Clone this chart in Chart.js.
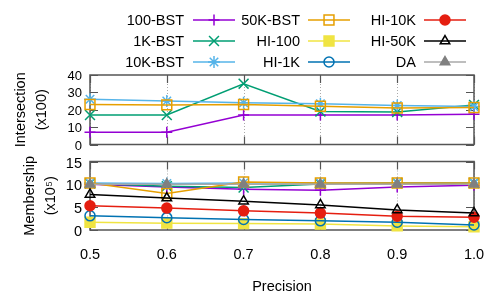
<!DOCTYPE html>
<html>
<head>
<meta charset="utf-8">
<script src="https://cdn.jsdelivr.net/npm/chart.js@4/dist/chart.umd.min.js"></script>
<style>
  html, body { margin: 0; padding: 0; background: #fff; }
  #wrap { position: relative; width: 498px; height: 299px; }
  #wrap canvas { position: absolute; left: 0; }
  #intersectionChart { top: 0; }
  #membershipChart { top: 153px; }
</style>
</head>
<body>
<div id="wrap">
  <canvas id="intersectionChart" width="498" height="153"></canvas>
  <canvas id="membershipChart" width="498" height="146"></canvas>
</div>
<script>
// x values (precision) and tick labels
const PRECISION = [0.5, 0.6, 0.7, 0.8, 0.9, 1.0];
const INTERSECTION_TICKS = [0, 10, 20, 30, 40];
const MEMBERSHIP_TICKS = [0, 5, 10, 15];

// Intersection (x100)
const INT_100_BST = [7, 7, 17, 17, 17, 17.4];
const INT_1K_BST = [17, 17, 35, 19, 18.7, 22.8];
const INT_10K_BST = [26, 25, 24, 23.5, 22.4, 21.8];
const INT_50K_BST = [23, 22.8, 23, 22, 21, 21.3];

// Membership (x10^5)
const MEM_100_BST = [10, 9.4, 8.9, 8.7, 9.4, 9.8];
const MEM_1K_BST = [10.2, 9.6, 9.3, 10.1, 10.3, 10.3];
const MEM_10K_BST = [10.3, 10.2, 10.3, 10.3, 10.3, 10.3];
const MEM_50K_BST = [10.3, 8.0, 10.5, 10.3, 10.3, 10.3];
const MEM_HI_100 = [1.7, 1.5, 1.4, 1.3, 0.9, 0.7];
const MEM_HI_1K = [3.1, 2.7, 2.3, 2.0, 1.7, 1.1];
const MEM_HI_10K = [5.3, 4.8, 4.2, 3.7, 3.0, 2.8];
const MEM_HI_50K = [7.8, 7.0, 6.3, 5.5, 4.4, 3.7];
const MEM_DA = [10, 10, 10, 10, 10, 10];

// y tick list and tick label size per panel
const Y_TICKS = {
  intersectionChart: INTERSECTION_TICKS,
  membershipChart: MEMBERSHIP_TICKS,
};
const Y_TICK_FONT = {
  intersectionChart: 13,
  membershipChart: 14.5,
};

const FONT = 'Liberation Sans, Arial, sans-serif';
Chart.defaults.font.family = FONT;
Chart.defaults.font.size = 14.5;
Chart.defaults.color = '#000';

// marker / line style per series
const STYLES = {
  '100-BST': { color: '#9400d3', pointStyle: 'cross', radius: 5.5, fill: 'transparent' },
  '1K-BST': { color: '#009e73', pointStyle: 'crossRot', radius: 7, fill: 'transparent' },
  '10K-BST': { color: '#56b4e9', pointStyle: 'star', radius: 6, fill: 'transparent' },
  '50K-BST': { color: '#e69f00', pointStyle: 'rect', radius: 7, fill: 'transparent' },
  'HI-100': { color: '#f0e442', pointStyle: 'rect', radius: 7, fill: '#f0e442' },
  'HI-1K': { color: '#0072b2', pointStyle: 'circle', radius: 5, fill: 'transparent' },
  'HI-10K': { color: '#e51e10', pointStyle: 'circle', radius: 5, fill: '#e51e10' },
  'HI-50K': { color: '#000000', pointStyle: 'triangle', radius: 5.5, fill: 'transparent' },
  'DA': { color: '#808080', pointStyle: 'triangle', radius: 5.5, fill: '#808080', line: '#a8a8a8' },
};

const LEGEND_ORDER = [
  ['100-BST', '1K-BST', '10K-BST'],
  ['50K-BST', 'HI-100', 'HI-1K'],
  ['HI-10K', 'HI-50K', 'DA'],
];

function makeSet(name, values, i, n) {
  const s = STYLES[name];
  return {
    label: name,
    data: PRECISION.map((x, k) => ({ x: x, y: values[k] })),
    borderColor: s.line || s.color,
    borderWidth: 1.5,
    pointStyle: s.pointStyle,
    pointRadius: s.radius,
    pointBorderColor: s.color,
    pointBackgroundColor: s.fill,
    pointBorderWidth: 1.5,
    clip: false,
    order: n - i,
    tension: 0,
  };
}

// frame, dotted grid, inward ticks and y tick labels (gnuplot look)
const framePlugin = {
  id: 'frame',
  beforeDatasetsDraw(chart) {
    const { ctx, chartArea: a } = chart;
    const xs = chart.scales.x, ys = chart.scales.y;
    const yTicks = Y_TICKS[chart.canvas.id];
    ctx.save();
    ctx.strokeStyle = '#aaaaaa';
    ctx.lineWidth = 1;
    ctx.setLineDash([1, 2]);
    PRECISION.forEach((v) => {
      const px = Math.round(xs.getPixelForValue(v)) + 0.5;
      ctx.beginPath();
      ctx.moveTo(px, a.top);
      ctx.lineTo(px, a.bottom);
      ctx.stroke();
    });
    ctx.setLineDash([]);
    ctx.strokeStyle = '#555555';
    ctx.lineWidth = 1.2;
    const tl = 8;
    PRECISION.forEach((v) => {
      const px = Math.round(xs.getPixelForValue(v)) + 0.5;
      ctx.beginPath();
      ctx.moveTo(px, a.top); ctx.lineTo(px, a.top + tl);
      ctx.moveTo(px, a.bottom); ctx.lineTo(px, a.bottom - tl);
      ctx.stroke();
    });
    ctx.font = Y_TICK_FONT[chart.canvas.id] + 'px ' + FONT;
    ctx.fillStyle = '#000';
    ctx.textAlign = 'right';
    ctx.textBaseline = 'middle';
    for (let i = 0; i < yTicks.length; i++) {
      const v = yTicks[i];
      const py = Math.round(ys.getPixelForValue(v)) + 0.5;
      ctx.beginPath();
      ctx.moveTo(a.left, py); ctx.lineTo(a.left + tl, py);
      ctx.moveTo(a.right, py); ctx.lineTo(a.right - tl, py);
      ctx.stroke();
      ctx.fillText(String(v), a.left - 8, py + 1);
    }
    ctx.lineWidth = 1.5;
    ctx.strokeRect(a.left, a.top, a.right - a.left, a.bottom - a.top);
    ctx.restore();
  },
};

// three-column legend, text on the left of each sample
const legendPlugin = {
  id: 'gpLegend',
  afterDraw(chart) {
    const ctx = chart.ctx;
    const textRight = [184, 300, 416];
    const lineX = [[193, 235], [308, 350], [424, 466]];
    const rowY = [20, 41, 62];
    ctx.save();
    ctx.font = '14.5px ' + FONT;
    ctx.textAlign = 'right';
    ctx.textBaseline = 'middle';
    LEGEND_ORDER.forEach((col, c) => {
      col.forEach((name, r) => {
        const s = STYLES[name];
        const y = rowY[r];
        ctx.fillStyle = '#000';
        ctx.fillText(name, textRight[c], y + 1);
        ctx.strokeStyle = s.line || s.color;
        ctx.lineWidth = 1.5;
        ctx.beginPath();
        ctx.moveTo(lineX[c][0], y);
        ctx.lineTo(lineX[c][1], y);
        ctx.stroke();
        ctx.fillStyle = s.fill;
        ctx.strokeStyle = s.color;
        Chart.helpers.drawPoint(ctx, {
          pointStyle: s.pointStyle, radius: s.radius, rotation: 0, borderWidth: 1.5,
        }, (lineX[c][0] + lineX[c][1]) / 2, y);
      });
    });
    ctx.restore();
  },
};

function xScale(showLabels) {
  return {
    type: 'linear',
    min: 0.5,
    max: 1.0,
    afterBuildTicks: (s) => { s.ticks = PRECISION.map((v) => ({ value: v })); },
    ticks: {
      display: showLabels,
      autoSkip: false,
      maxRotation: 0,
      padding: 8,
      callback: (v) => Number(v).toFixed(1),
    },
    grid: { display: false },
    border: { display: false },
    title: {
      display: showLabels,
      text: 'Precision',
      font: { size: 14.5, lineHeight: '21px' },
      padding: { top: 0, bottom: 1.5 },
    },
    afterFit: (s) => { s.height = showLabels ? 69 : 0; },
  };
}

function yScale(max, titleLines, titlePad) {
  return {
    min: 0,
    max: max,
    ticks: { display: false },
    grid: { display: false, drawTicks: false },
    border: { display: false },
    title: {
      display: true,
      text: titleLines,
      font: { size: 14.5, lineHeight: '21px' },
      padding: { top: titlePad, bottom: 0 },
    },
    afterFit: (s) => { s.width = 90; },
  };
}

const baseOptions = {
  responsive: false,
  animation: false,
  devicePixelRatio: 1,
  plugins: { legend: { display: false }, tooltip: { enabled: false } },
  elements: { line: { tension: 0 } },
};

const topNames = ['100-BST', '1K-BST', '10K-BST', '50K-BST'];
const topValues = [INT_100_BST, INT_1K_BST, INT_10K_BST, INT_50K_BST];
new Chart(document.getElementById('intersectionChart'), {
  type: 'line',
  data: { datasets: topNames.map((n, i) => makeSet(n, topValues[i], i, topNames.length)) },
  options: Object.assign({}, baseOptions, {
    layout: { padding: { left: 0, right: 24, top: 75, bottom: 6 } },
    scales: {
      x: xScale(false),
      y: yScale(40, ['Intersection', '(x100)'], 10),
    },
  }),
  plugins: [framePlugin, legendPlugin],
});

const botNames = ['100-BST', '1K-BST', '10K-BST', '50K-BST', 'HI-100', 'HI-1K', 'HI-10K', 'HI-50K', 'DA'];
const botValues = [MEM_100_BST, MEM_1K_BST, MEM_10K_BST, MEM_50K_BST, MEM_HI_100, MEM_HI_1K, MEM_HI_10K, MEM_HI_50K, MEM_DA];
new Chart(document.getElementById('membershipChart'), {
  type: 'line',
  data: { datasets: botNames.map((n, i) => makeSet(n, botValues[i], i, botNames.length)) },
  options: Object.assign({}, baseOptions, {
    layout: { padding: { left: 0, right: 24, top: 6, bottom: 0 } },
    scales: {
      x: xScale(true),
      y: yScale(15, ['Membership', '(x10\u2075)'], 19),
    },
  }),
  plugins: [framePlugin],
});
</script>
</body>
</html>
